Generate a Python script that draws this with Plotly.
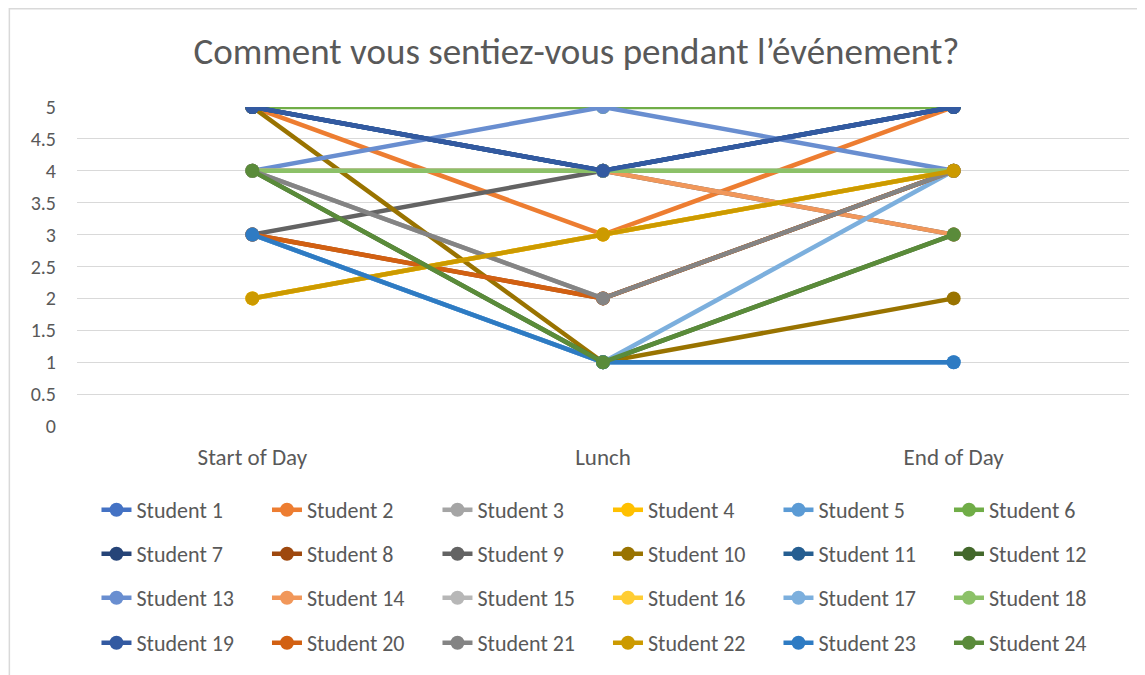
import plotly.graph_objects as go

categories = ["Start of Day", "Lunch", "End of Day"]
students = [f"Student {i}" for i in range(1, 25)]
start_of_day = [5, 5, 4, 2, 3, 5, 5, 3, 3, 5, 5, 4, 4, 4, 4, 2, 3, 4, 5, 3, 4, 2, 3, 4]
lunch =        [4, 3, 2, 3, 1, 5, 4, 2, 4, 1, 4, 1, 5, 4, 4, 3, 1, 4, 4, 2, 2, 3, 1, 1]
end_of_day =   [5, 5, 4, 4, 1, 5, 5, 4, 3, 2, 5, 3, 4, 3, 4, 4, 4, 4, 5, 4, 4, 4, 1, 3]
colors = ["#4472C4", "#ED7D31", "#A5A5A5", "#FFC000", "#5B9BD5", "#70AD47",
          "#264478", "#9E480E", "#636363", "#997300", "#255E91", "#43682B",
          "#698ED0", "#F1975A", "#B7B7B7", "#FFCD33", "#7CAFDD", "#8CC168",
          "#335AA1", "#D26012", "#848484", "#CC9A00", "#2E7BC3", "#5A8B3A"]
yticks = [0, 0.5, 1, 1.5, 2, 2.5, 3, 3.5, 4, 4.5, 5]

FONT = "Calibri, Carlito, Lato, sans-serif"
TXT = "#595959"

fig = go.Figure()
legend_names = ["legend", "legend2", "legend3", "legend4"]
for i, name in enumerate(students):
    fig.add_trace(go.Scatter(
        x=categories,
        y=[start_of_day[i], lunch[i], end_of_day[i]],
        mode="lines+markers",
        name=name,
        line=dict(color=colors[i], width=4.5),
        marker=dict(color=colors[i], size=14),
        legend=legend_names[i // 6],
    ))

# page has an 8px body margin: figure coordinates = page coordinates - 8
OFF = 8
W, H = 1145 - OFF, 675 - OFF
L, R, T, B = 76.5 - OFF, 1129.5 - OFF, 107 - OFF, 426 - OFF
pw, ph = R - L, B - T

def py(y_page):
    return (B - (y_page - OFF)) / ph

def px(x_page):
    return ((x_page - OFF) - L) / pw

row_y = [510, 554, 598, 643]
leg_common = dict(orientation="h", xanchor="left", yanchor="middle",
                  font=dict(family=FONT, size=22, color=TXT),
                  entrywidth=125.5, bgcolor="rgba(0,0,0,0)", itemwidth=30,
                  traceorder="normal")
legends = {}
for k, ln in enumerate(legend_names):
    legends[ln] = dict(leg_common, x=px(96), y=py(row_y[k]))

fig.update_layout(
    width=W, height=H,
    margin=dict(l=L, r=W - R, t=T, b=H - B, autoexpand=False),
    paper_bgcolor="white", plot_bgcolor="white",
    font=dict(family=FONT, color=TXT),
    title=dict(text="Comment vous sentiez-vous pendant l\u2019événement?",
               x=0.5, xanchor="center", y=1 - (51 - OFF) / H, yanchor="middle",
               font=dict(family=FONT, size=37, color=TXT)),
    xaxis=dict(type="category", range=[-0.5, 2.5], showgrid=False, zeroline=False,
               showline=False, ticks="", tickfont=dict(family=FONT, size=23, color=TXT),
               ticklabelstandoff=15),
    yaxis=dict(range=[0, 5], tickvals=yticks, ticktext=[f"{v:g}" for v in yticks],
               showgrid=True, gridcolor="#D9D9D9", gridwidth=1.3, zeroline=False,
               showline=False, ticks="", tickfont=dict(family=FONT, size=20, color=TXT),
               ticklabelstandoff=20),
    showlegend=True,
    **legends,
)

fig.add_shape(type="rect", xref="paper", yref="paper",
              x0=px(8.8), x1=px(1170), y0=py(700), y1=py(8.8),
              line=dict(color="#D9D9D9", width=1.5), layer="below")

fig.write_html("out.html")
